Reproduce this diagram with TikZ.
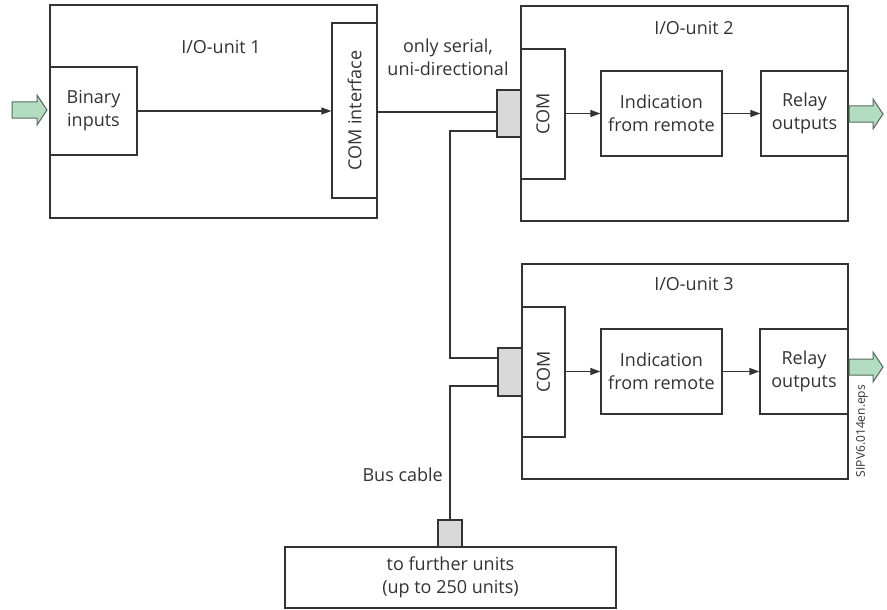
\documentclass[tikz,border=0pt]{standalone}
\usepackage{fontspec}
\setmainfont{Open Sans}
\usetikzlibrary{arrows.meta}
\definecolor{ln}{HTML}{333333}
\definecolor{gfill}{HTML}{B2DDC0}
\definecolor{gedge}{HTML}{5A6A5E}
\definecolor{conn}{HTML}{D9D9D9}
\tikzset{
  box/.style={draw=ln, line width=1.2pt, fill=white, inner sep=0pt, align=center, text=ln,
    font=\fontsize{18}{23}\selectfont},
  conbox/.style={draw=ln, line width=1.2pt, fill=conn, inner sep=0pt},
  wire/.style={draw=ln, line width=1.2pt},
  arr/.style={wire, -{Triangle[length=10pt,width=7pt]}},
  lbl/.style={text=ln, align=center, inner sep=0pt, font=\fontsize{18}{23}\selectfont},
  garrow/.style={fill=gfill, draw=gedge, line width=1pt, line join=miter},
}
\begin{document}
\begin{tikzpicture}[x=1pt,y=-1pt]
\useasboundingbox (0,0) rectangle (887,610);
% I/O-unit 1
\node[box, minimum width=327, minimum height=213] (u1) at (213.5,111.5) {};
\node[lbl] (t1) at (221,47) {I/O-unit 1};
\node[box, minimum width=87, minimum height=88] (bin) at (93.5,111) {Binary\\inputs};
\node[box, minimum width=45, minimum height=175] (comi) at (354.5,110.5) {};
\node[lbl, rotate=90] (comit) at (comi.center) {COM interface};
% I/O-unit 2
\node[box, minimum width=327, minimum height=215] (u2) at (684.5,113.5) {};
\node[lbl] (t2) at (694,28) {I/O-unit 2};
\node[box, minimum width=44, minimum height=130] (com2) at (543,114) {};
\node[lbl, rotate=90] (com2t) at (com2.center) {COM};
\node[box, minimum width=121, minimum height=85] (ind2) at (661.5,113.5) {Indication\\from remote};
\node[box, minimum width=87, minimum height=85] (rel2) at (804.5,113.5) {Relay\\outputs};
\node[conbox, minimum width=24, minimum height=47] (g2) at (509,113.5) {};
% I/O-unit 3
\node[box, minimum width=326, minimum height=215] (u3) at (685,371.5) {};
\node[lbl] (t3) at (694,284) {I/O-unit 3};
\node[box, minimum width=43, minimum height=130] (com3) at (543.5,372) {};
\node[lbl, rotate=90] (com3t) at (com3.center) {COM};
\node[box, minimum width=121, minimum height=85] (ind3) at (661.5,371.5) {Indication\\from remote};
\node[box, minimum width=88, minimum height=85] (rel3) at (804,371.5) {Relay\\outputs};
\node[conbox, minimum width=24, minimum height=48] (g3) at (510,372) {};
% further units
\node[box, minimum width=331, minimum height=61] (fu) at (450.5,577.5) {to further units\\(up to 250 units)};
\node[conbox, minimum width=24, minimum height=27] (gb) at (450,533.5) {};
% labels
\node[lbl] (ser) at (448,57) {only serial,\\uni-directional};
\node[lbl, anchor=east] (bus) at (443,475) {Bus cable};
\node[text=ln, inner sep=0pt, rotate=90, font=\fontsize{12}{14}\selectfont] (eps) at (862,431) {SIPV6.014en.eps};
% connectors
\draw[arr] (bin.east) -- (bin.east -| comi.west);
\draw[wire] (comi.east |- 0,112) -- (g2.west |- 0,112);
\coordinate (j1) at (450,358);
\draw[wire] ([yshift=-17.5pt]g2.west) -| (j1) -- (j1 -| g3.west);
\draw[wire] ([yshift=-14pt]g3.west) -| (gb.north);
\draw[arr] (com2.east |- ind2.west) -- (ind2.west);
\draw[arr] (ind2.east) -- (rel2.west);
\draw[arr] (com3.east |- ind3.west) -- (ind3.west);
\draw[arr] (ind3.east) -- (rel3.west);
% green block arrows
\draw[garrow] (12,102) -- (37,102) -- (37,95) -- (47,110) -- (37,125) -- (37,118) -- (12,118) -- cycle;
\draw[garrow] (849,106) -- (873,106) -- (873,99) -- (883,114) -- (873,129) -- (873,122) -- (849,122) -- cycle;
\draw[garrow] (849,359) -- (873,359) -- (873,352) -- (883,367) -- (873,382) -- (873,375) -- (849,375) -- cycle;
\end{tikzpicture}
\end{document}
